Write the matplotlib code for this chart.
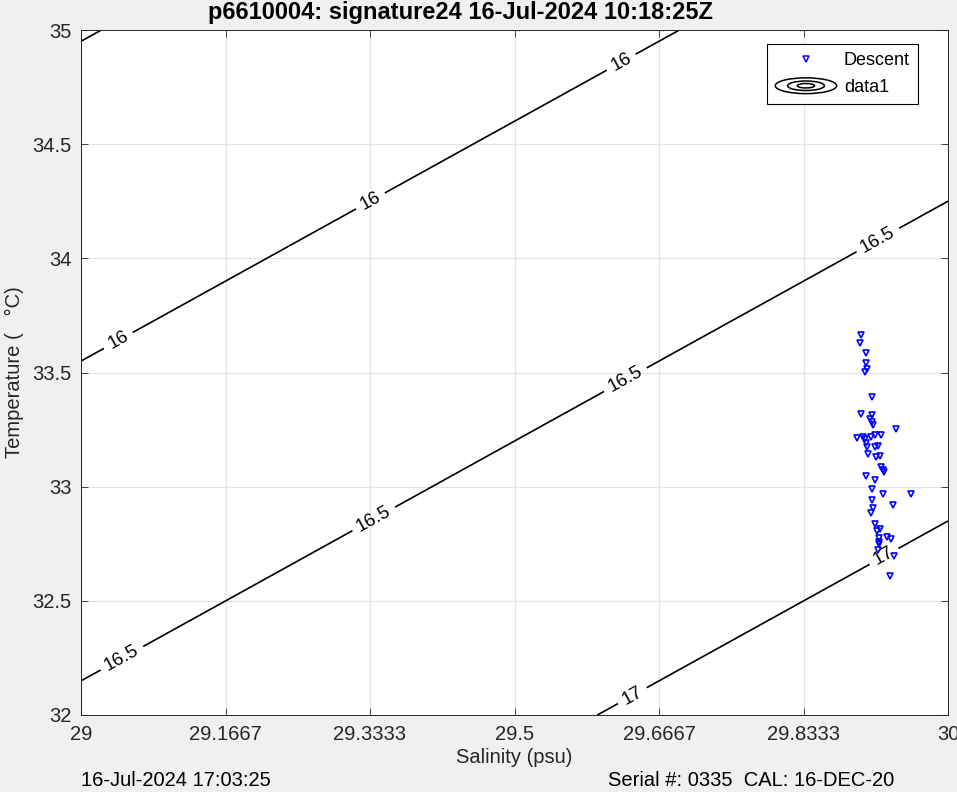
import numpy as np
import matplotlib
matplotlib.use("Agg")
import matplotlib.pyplot as plt
from matplotlib.legend_handler import HandlerBase
from matplotlib.patches import Ellipse
from matplotlib.lines import Line2D

plt.rcParams["font.family"] = ["Liberation Sans", "DejaVu Sans"]

# descent profile (salinity psu, temperature degC)
salinity = [29.8997, 29.8985, 29.9054, 29.9054, 29.9066, 29.9043, 29.9123, 29.8997,
            29.9123, 29.9100, 29.9123, 29.9135, 29.9400, 29.8950, 29.9020, 29.9043,
            29.9112, 29.9158, 29.9227, 29.9054, 29.9066, 29.9158, 29.9193, 29.9077,
            29.9170, 29.9216, 29.9227, 29.9250, 29.9262, 29.9054, 29.9158, 29.9123,
            29.9250, 29.9573, 29.9123, 29.9365, 29.9135, 29.9112, 29.9158, 29.9181,
            29.9216, 29.9204, 29.9204, 29.9204, 29.9296, 29.9342, 29.9193, 29.9377,
            29.9331]
temperature = [33.664, 33.629, 33.585, 33.542, 33.515, 33.502, 33.393, 33.318,
               33.314, 33.296, 33.283, 33.270, 33.253, 33.213, 33.218, 33.209,
               33.218, 33.226, 33.226, 33.191, 33.174, 33.174, 33.178, 33.143,
               33.130, 33.134, 33.086, 33.073, 33.064, 33.047, 33.029, 32.990,
               32.968, 32.968, 32.942, 32.920, 32.907, 32.885, 32.837, 32.806,
               32.815, 32.775, 32.758, 32.749, 32.780, 32.771, 32.723, 32.696,
               32.609]

# sigma-t contours: linear fit to the isopycnals in the picture
sigma_levels = [15.5, 16, 16.5, 17]
sigma_ref, s_ref, t_ref = 16.0, 29.0, 33.55
beta, alpha = 0.75, 0.357
label_pos = [(29.0415, 33.651), (29.3333, 34.255), (29.625, 34.847),
             (29.047, 32.25), (29.337, 32.863), (29.630, 33.454), (29.9216, 34.063),
             (29.6355, 32.088), (29.926, 32.696)]

xticks = [29, 29 + 1 / 6, 29 + 2 / 6, 29.5, 29 + 4 / 6, 29 + 5 / 6, 30]
xticklabels = ["29", "29.1667", "29.3333", "29.5", "29.6667", "29.8333", "30"]
yticks = [32, 32.5, 33, 33.5, 34, 34.5, 35]
yticklabels = ["32", "32.5", "33", "33.5", "34", "34.5", "35"]

title = "p6610004: signature24 16-Jul-2024 10:18:25Z"
stamp = "16-Jul-2024 17:03:25"
serial = "Serial #: 0335  CAL: 16-DEC-20"


class ContourHandler(HandlerBase):
    def create_artists(self, legend, orig_handle, xdescent, ydescent,
                       width, height, fontsize, trans):
        cx = width / 2 - xdescent
        cy = height / 2 - ydescent
        arts = []
        for f in (1.0, 0.6, 0.28):
            arts.append(Ellipse((cx, cy), width * f, height * 1.25 * f, fill=False,
                                edgecolor="black", lw=1.1, transform=trans))
        return arts


fig = plt.figure(figsize=(9.57, 7.92), dpi=100, facecolor="#f0f0f0")
ax = fig.add_axes([81 / 957, 1 - 715 / 792, 867 / 957, 685 / 792])
ax.set_facecolor("white")

S, T = np.meshgrid(np.linspace(29, 30, 200), np.linspace(32, 35, 200))
sig = sigma_ref + beta * (S - s_ref) - alpha * (T - t_ref)
cs = ax.contour(S, T, sig, levels=sigma_levels, colors="black", linewidths=1.2)
ax.clabel(cs, fmt="%g", manual=label_pos, inline=True, fontsize=13.5, inline_spacing=6)

ax.plot(salinity, temperature, linestyle="none", marker="v", ms=5,
        mfc="none", mec="blue", mew=1.2)

ax.set_xlim(29, 30)
ax.set_ylim(32, 35)
ax.set_xticks(xticks)
ax.set_xticklabels(xticklabels)
ax.set_yticks(yticks)
ax.set_yticklabels(yticklabels)
ax.tick_params(direction="in", length=5, width=0.6, colors="#262626",
               labelsize=14.5, top=True, right=True, pad=7)
ax.grid(True, color="#e3e3e3", linewidth=0.9)
ax.set_axisbelow(True)
for sp in ax.spines.values():
    sp.set_color("#262626")
    sp.set_linewidth(0.7)

ax.set_xlabel("Salinity (psu)", fontsize=14.5, color="#262626", labelpad=3)
ax.set_ylabel("Temperature (   \u00b0C)", fontsize=14.5, color="#262626", labelpad=6)

fig.text(460 / 957, 1 - 12 / 792, title, ha="center", va="center",
         fontsize=17, fontweight="bold")
fig.text(81 / 957, 1 - 780 / 792, stamp, ha="left", va="center", fontsize=14.5)
fig.text(608 / 957, 1 - 780 / 792, serial, ha="left", va="center", fontsize=14.5)

h1 = Line2D([], [], linestyle="none", marker="v", ms=4, mfc="none", mec="blue", mew=1.1)
h2 = object()
leg = ax.legend([h1, h2], ["Descent", "data1"], handler_map={object: ContourHandler()},
                loc="upper right", bbox_to_anchor=((918 - 81) / 867, (715 - 44) / 685),
                borderaxespad=0, fontsize=13, fancybox=False, framealpha=1,
                edgecolor="black", handlelength=3.4, handletextpad=0.4,
                borderpad=0.45, labelspacing=0.55)
leg.get_frame().set_linewidth(0.8)

fig.savefig("out.png", dpi=100, facecolor=fig.get_facecolor())
